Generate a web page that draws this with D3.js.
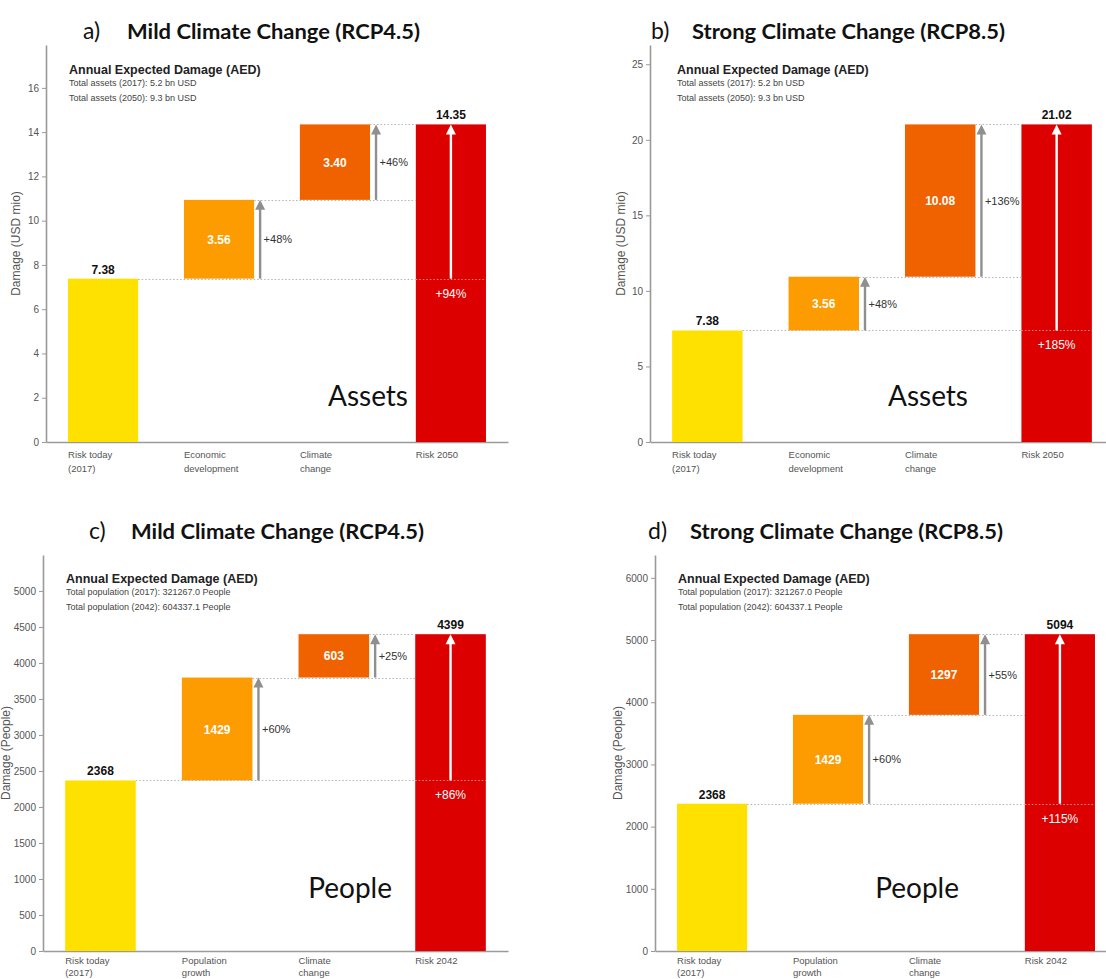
<!DOCTYPE html>
<html><head><meta charset="utf-8">
<script src="https://cdn.jsdelivr.net/npm/d3@7"></script>
<style>
body{margin:0;background:#fff;}
svg{display:block;}
text{font-family:"Liberation Sans",Arial,sans-serif;}
</style></head>
<body>
<svg id="chart" width="1106" height="979"></svg>
<script>
// ---------------- DATA ----------------
const panelLetters = ["a)", "b)", "c)", "d)"];
const panelTitles = ["Mild Climate Change (RCP4.5)", "Strong Climate Change (RCP8.5)", "Mild Climate Change (RCP4.5)", "Strong Climate Change (RCP8.5)"];
const assetCategories = [["Risk today", "(2017)"], ["Economic", "development"], ["Climate", "change"], ["Risk 2050"]];
const peopleCategories = [["Risk today", "(2017)"], ["Population", "growth"], ["Climate", "change"], ["Risk 2042"]];
const panelCategories = [assetCategories, assetCategories, peopleCategories, peopleCategories];
const baseValues = [7.38, 7.38, 2368, 2368];
const step1Values = [3.56, 3.56, 1429, 1429];
const step2Values = [3.40, 10.08, 603, 1297];
const totalValues = [14.35, 21.02, 4399, 5094];
const step1Pct = ["+48%", "+48%", "+60%", "+60%"];
const step2Pct = ["+46%", "+136%", "+25%", "+55%"];
const totalPct = ["+94%", "+185%", "+86%", "+115%"];
const valueDecimals = [2, 2, 0, 0];
const yTickValues = [
  [0, 2, 4, 6, 8, 10, 12, 14, 16],
  [0, 5, 10, 15, 20, 25],
  [0, 500, 1000, 1500, 2000, 2500, 3000, 3500, 4000, 4500, 5000],
  [0, 1000, 2000, 3000, 4000, 5000, 6000]
];
const yAxisTitles = ["Damage (USD mio)", "Damage (USD mio)", "Damage (People)", "Damage (People)"];
const headerTitle = "Annual Expected Damage (AED)";
const headerLines = [
  ["Total assets (2017): 5.2 bn USD", "Total assets (2050): 9.3 bn USD"],
  ["Total assets (2017): 5.2 bn USD", "Total assets (2050): 9.3 bn USD"],
  ["Total population (2017): 321267.0  People", "Total population (2042): 604337.1  People"],
  ["Total population (2017): 321267.0  People", "Total population (2042): 604337.1  People"]
];
const panelTags = ["Assets", "Assets", "People", "People"];

// ---------------- LAYOUT ----------------
const layout = [
  {left: 46, right: 508, y0: 442, top: 45, letterX: 83, titleX: 127, titleW: 293, titleY: 39, yTitleX: 20, headX: 69, headY: 74, tagEnd: 408, tagY: 406, catY: 16, catDy: 13.5},
  {left: 650, right: 1114, y0: 442, top: 45, letterX: 651, titleX: 692, titleW: 313, titleY: 39, yTitleX: 625, headX: 677, headY: 74, tagEnd: 968, tagY: 406, catY: 16, catDy: 13.5},
  {left: 43, right: 508, y0: 951, top: 555, letterX: 89, titleX: 131, titleW: 293, titleY: 539, yTitleX: 10, headX: 66, headY: 583, tagEnd: 392, tagY: 898, catY: 13, catDy: 11.5},
  {left: 655, right: 1117, y0: 951, top: 555, letterX: 648, titleX: 690, titleW: 313, titleY: 539, yTitleX: 622, headX: 678, headY: 583, tagEnd: 959, tagY: 898, catY: 13, catDy: 11.5}
];
const colors = ["#FFE100", "#FC9C00", "#F06200", "#DC0000"];
const axisColor = "#9a9a9a";
const arrowColor = "#8f8f8f";

const svg = d3.select("#chart");

function arrow(g, x, yFrom, yTo, color, headW, headH) {
  g.append("line").attr("x1", x).attr("x2", x).attr("y1", yFrom).attr("y2", yTo + headH - 1)
    .attr("stroke", color).attr("stroke-width", 2.4);
  g.append("path").attr("d", `M${x - headW / 2},${yTo + headH} L${x},${yTo} L${x + headW / 2},${yTo + headH} Z`)
    .attr("fill", color);
}

panelLetters.forEach((letter, i) => {
  const L = layout[i];
  const cats = panelCategories[i];
  const g = svg.append("g");
  const fmt = d3.format("." + valueDecimals[i] + "f");

  const x = d3.scaleBand().domain(d3.range(cats.length)).range([L.left, L.right])
    .paddingInner(0.395).paddingOuter(0.19);
  const y = d3.scaleLinear().domain([0, totalValues[i] * 1.25]).range([L.y0, L.top]);

  // Title
  g.append("text").attr("x", L.letterX).attr("y", L.titleY).text(letter)
    .style("font-family", "Lato, 'Open Sans', sans-serif").style("font-size", "23px").attr("fill", "#111");
  g.append("text").attr("x", L.titleX).attr("y", L.titleY).text(panelTitles[i])
    .style("font-family", "Lato, 'Open Sans', sans-serif").style("font-size", "21px").style("font-weight", 700)
    .attr("fill", "#111").attr("textLength", L.titleW).attr("lengthAdjust", "spacingAndGlyphs");

  // Y axis
  const yAxis = d3.axisLeft(y).tickValues(yTickValues[i]).tickFormat(d3.format("d"))
    .tickSize(4).tickSizeOuter(0).tickPadding(3);
  const ya = g.append("g").attr("transform", `translate(${L.left},0)`).call(yAxis);
  ya.select(".domain").attr("stroke", axisColor).attr("stroke-width", 1.6);
  ya.selectAll(".tick line").attr("stroke", axisColor);
  ya.selectAll(".tick text").attr("fill", "#555").style("font-size", "10px")
    .style("font-family", "'Liberation Sans', Arial, sans-serif");

  // X axis
  const xAxis = d3.axisBottom(x).tickSize(0).tickSizeOuter(0).tickFormat("");
  const xa = g.append("g").attr("transform", `translate(0,${L.y0})`).call(xAxis);
  xa.select(".domain").attr("stroke", axisColor).attr("stroke-width", 1.6);

  // Category labels
  cats.forEach((lines, k) => {
    const t = g.append("text").attr("x", x(k)).attr("y", L.y0 + L.catY)
      .attr("fill", "#555").style("font-size", "9.5px");
    lines.forEach((ln, j) => t.append("tspan").attr("x", x(k)).attr("dy", j === 0 ? 0 : L.catDy).text(ln));
  });

  // Y axis title
  g.append("text").attr("transform", `translate(${L.yTitleX},${(L.top + L.y0) / 2}) rotate(-90)`)
    .attr("text-anchor", "middle").attr("fill", "#555").style("font-size", "12px").text(yAxisTitles[i]);

  // Header
  g.append("text").attr("x", L.headX).attr("y", L.headY).text(headerTitle)
    .style("font-size", "12.5px").style("font-weight", 700).attr("fill", "#222");
  headerLines[i].forEach((ln, j) => {
    g.append("text").attr("x", L.headX).attr("y", L.headY + 11.5 + j * 15.5).text(ln)
      .style("font-size", "9px").attr("fill", "#444");
  });

  const base = baseValues[i], s1 = step1Values[i], s2 = step2Values[i], tot = totalValues[i];
  const lvl1 = base + s1;
  const bw = x.bandwidth();

  const dot = (x1, x2, v, col) => g.append("line").attr("x1", x1).attr("x2", x2)
    .attr("y1", Math.round(y(v)) + 0.5).attr("y2", Math.round(y(v)) + 0.5)
    .attr("stroke", col || "#b5b5b5").attr("stroke-width", 1.2).attr("stroke-dasharray", "1.5,2");

  const bars = [
    {k: 0, lo: 0, hi: base},
    {k: 1, lo: base, hi: lvl1},
    {k: 2, lo: lvl1, hi: tot},
    {k: 3, lo: 0, hi: tot}
  ];
  g.selectAll("rect.bar").data(bars).enter().append("rect").attr("class", "bar")
    .attr("x", d => x(d.k)).attr("width", bw)
    .attr("y", d => y(d.hi)).attr("height", d => y(d.lo) - y(d.hi))
    .attr("fill", d => colors[d.k]);

  dot(x(0) + bw, x(3), base);
  dot(x(3), x(3) + bw, base, "#f08a8a");
  dot(x(1) + bw, x(3), lvl1);
  dot(x(2) + bw, x(3), tot);

  g.append("text").attr("x", x(0) + bw / 2).attr("y", y(base) - 5).attr("text-anchor", "middle")
    .style("font-size", "12px").style("font-weight", 700).attr("fill", "#111").text(fmt(base));
  g.append("text").attr("x", x(3) + bw / 2).attr("y", y(tot) - 5).attr("text-anchor", "middle")
    .style("font-size", "12px").style("font-weight", 700).attr("fill", "#111").text(fmt(tot));

  [[1, base, lvl1, s1], [2, lvl1, tot, s2]].forEach(([k, lo, hi, v]) => {
    g.append("text").attr("x", x(k) + bw / 2).attr("y", (y(lo) + y(hi)) / 2 + 4.5).attr("text-anchor", "middle")
      .style("font-size", "12px").style("font-weight", 700).attr("fill", "#fff").text(fmt(v));
  });

  [[1, base, lvl1, step1Pct[i]], [2, lvl1, tot, step2Pct[i]]].forEach(([k, lo, hi, p]) => {
    const ax = x(k) + bw + 6;
    arrow(g, ax, y(lo), y(hi), arrowColor, 10, 10);
    g.append("text").attr("x", ax + 3.5).attr("y", (y(lo) + y(hi)) / 2 + 4).text(p)
      .style("font-size", "11px").attr("fill", "#333");
  });

  const cx = x(3) + bw / 2;
  arrow(g, cx, y(base), y(tot), "#fff", 10, 10);
  g.append("text").attr("x", cx).attr("y", y(base) + 19).attr("text-anchor", "middle")
    .style("font-size", "12px").attr("fill", "#fff").text(totalPct[i]);

  g.append("text").attr("x", L.tagEnd).attr("y", L.tagY).attr("text-anchor", "end")
    .style("font-family", "Lato, 'Open Sans', sans-serif").style("font-size", "28px").attr("fill", "#111")
    .text(panelTags[i]);
});
</script>
</body></html>
